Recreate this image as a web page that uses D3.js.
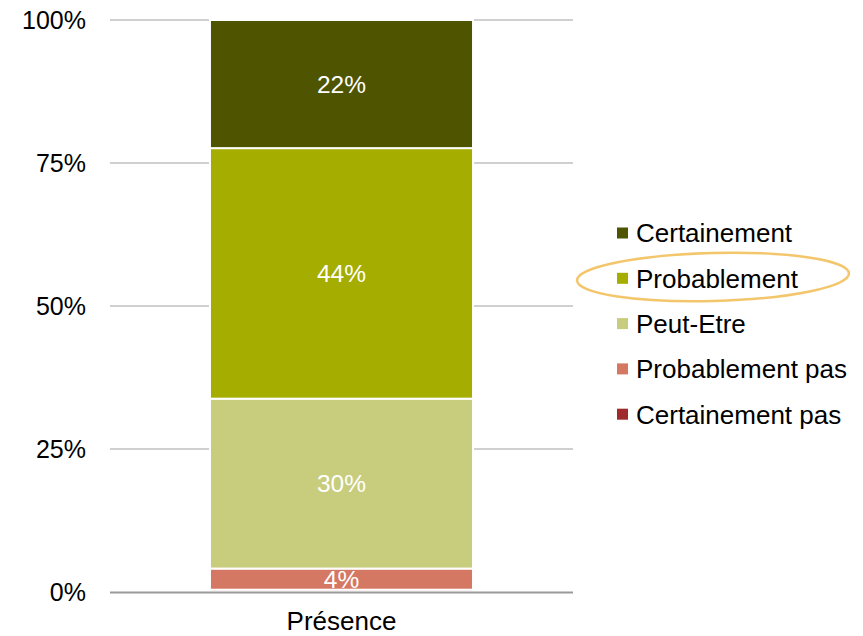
<!DOCTYPE html>
<html lang="fr">
<head>
<meta charset="utf-8"/>
<title>Présence</title>
<script src="https://cdnjs.cloudflare.com/ajax/libs/d3/7.8.5/d3.min.js"></script>
<style>
  body { margin: 0; background: #fff; }
  text { font-family: "Liberation Sans", Arial, sans-serif; }
</style>
</head>
<body>
<div id="chart"></div>
<script>
// values (percent, bottom to top)
var categories = ["Présence"];
var seriesNames = ["Certainement pas", "Probablement pas", "Peut-Etre", "Probablement", "Certainement"];
var seriesValues = [0.4, 3.7, 29.7, 43.8, 22.4];
var seriesColors = ["#b0504a", "#d57863", "#c7cd7c", "#a4ad00", "#4f5400"];
var tickValues = [0, 25, 50, 75, 100];
var tickLabels = ["0%", "25%", "50%", "75%", "100%"];

var width = 863, height = 636;
var svg = d3.select("#chart").append("svg")
    .attr("width", width).attr("height", height);

var y = d3.scaleLinear().domain([0, 100]).range([592, 20]);
var x = d3.scaleBand().domain(categories).range([110, 573]).paddingInner(0).paddingOuter(0.38);

// gridlines
svg.append("g").selectAll("line")
  .data(tickValues.filter(function(d){ return d > 0; }))
  .enter().append("line")
    .attr("x1", 110).attr("x2", 573)
    .attr("y1", function(d){ return y(d); })
    .attr("y2", function(d){ return y(d); })
    .style("stroke", "#c0c0c0")
    .style("stroke-width", 1.5);

// stack
var cum = 0;
var segs = seriesValues.map(function(v, i) {
  var s = { name: seriesNames[i], v: v, y0: cum, y1: cum + v, color: seriesColors[i] };
  cum += v;
  return s;
});

var bar = svg.append("g");
bar.selectAll("rect")
  .data(segs)
  .enter().append("rect")
    .attr("x", x(categories[0]))
    .attr("width", x.bandwidth())
    .attr("y", function(d){ return y(d.y1); })
    .attr("height", function(d){ return y(d.y0) - y(d.y1); })
    .style("fill", function(d){ return d.color; })
    .style("stroke", "#fff")
    .style("stroke-width", 2);

bar.selectAll("text")
  .data(segs.filter(function(d){ return d.v >= 1; }))
  .enter().append("text")
    .attr("x", x(categories[0]) + x.bandwidth() / 2)
    .attr("y", function(d){ return (y(d.y0) + y(d.y1)) / 2; })
    .attr("dy", "0.36em")
    .attr("text-anchor", "middle")
    .style("fill", "#fff")
    .style("font-size", "24.5px")
    .text(function(d){ return Math.round(d.v) + "%"; });

// axis line
svg.append("line")
  .attr("x1", 110).attr("x2", 573)
  .attr("y1", y(0) + 0.5).attr("y2", y(0) + 0.5)
  .style("stroke", "#999")
  .style("stroke-width", 2);

// y tick labels
svg.append("g").selectAll("text")
  .data(tickValues)
  .enter().append("text")
    .attr("x", 86)
    .attr("y", function(d){ return y(d); })
    .attr("dy", "0.36em")
    .attr("text-anchor", "end")
    .style("font-size", "25px")
    .style("fill", "#000")
    .text(function(d, i){ return tickLabels[i]; });

// category label
svg.append("text")
  .attr("x", x(categories[0]) + x.bandwidth() / 2)
  .attr("y", 630)
  .attr("text-anchor", "middle")
  .style("font-size", "26px")
  .text(categories[0]);

// legend (top to bottom = reverse stack order)
var legendItems = segs.slice().reverse();
var lg = svg.append("g");
var row = lg.selectAll("g")
  .data(legendItems)
  .enter().append("g")
    .attr("transform", function(d, i){ return "translate(617," + (233 + i * 45.3) + ")"; });
row.append("rect")
  .attr("x", 0).attr("y", -5.5)
  .attr("width", 11).attr("height", 11)
  .style("fill", function(d){ return d.color === "#b0504a" ? "#9f2a2b" : d.color; });
row.append("text")
  .attr("x", 19).attr("dy", "0.36em")
  .style("font-size", "26px")
  .text(function(d){ return d.name; });

// hand drawn highlight round "Probablement"
svg.append("ellipse")
  .attr("cx", 713).attr("cy", 277)
  .attr("rx", 136).attr("ry", 24)
  .attr("transform", "rotate(-1.5 713 277)")
  .style("fill", "none")
  .style("stroke", "#f3c66c")
  .style("stroke-width", 2.5);
</script>
</body>
</html>
